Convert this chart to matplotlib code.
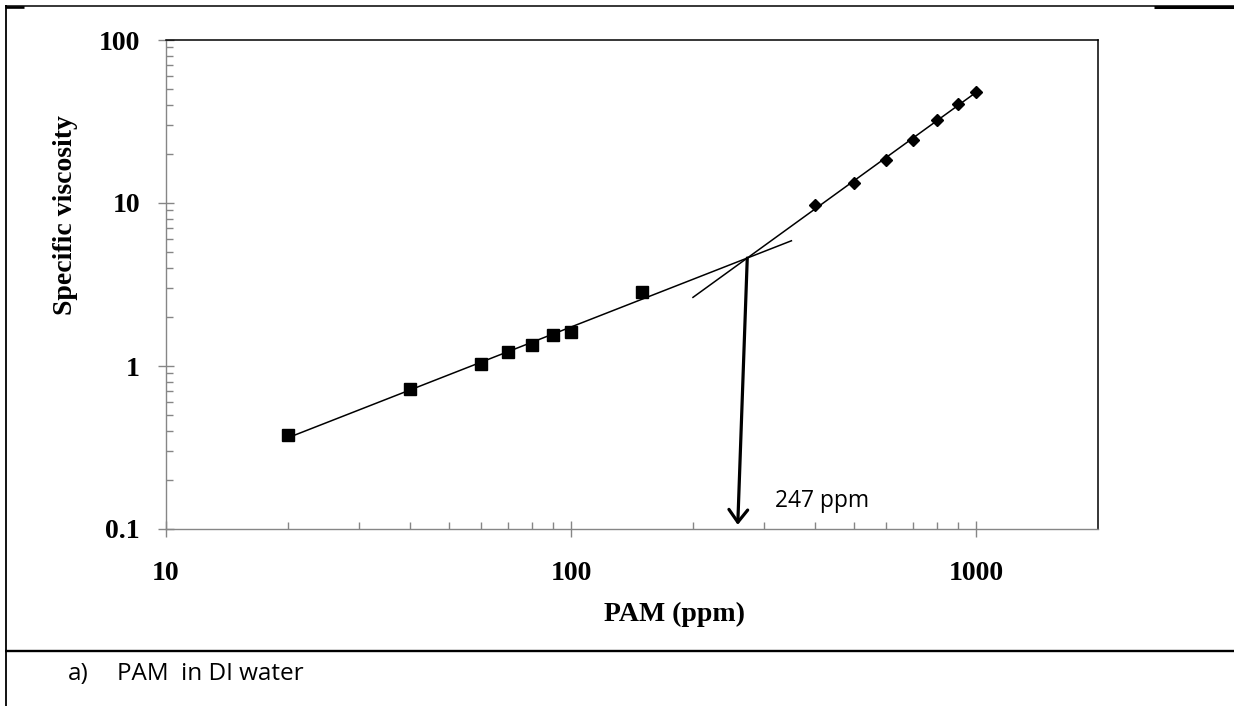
import numpy as np
import matplotlib
matplotlib.use("Agg")
import matplotlib.pyplot as plt
from matplotlib.lines import Line2D
from matplotlib.ticker import FixedLocator, NullFormatter

# ---------------- data ----------------
pam_low = [20, 40, 60, 70, 80, 90, 100, 150]
visc_low = [0.375, 0.722, 1.033, 1.219, 1.352, 1.542, 1.609, 2.86]
pam_high = [400, 500, 600, 700, 800, 900, 1000]
visc_high = [9.70, 13.2, 18.4, 24.3, 32.2, 40.7, 48.3]
fit_low_range = [20, 350]
fit_high_range = [200, 1000]
arrow_tip = [258, 0.106]
cross_label = "247 ppm"
cross_label_pos = [319, 0.1365]
x_ticks = [10, 100, 1000]
x_ticklabels = ["10", "100", "1000"]
y_ticks = [0.1, 1, 10, 100]
y_ticklabels = ["0.1", "1", "10", "100"]
x_label = "PAM (ppm)"
y_label = "Specific viscosity"
caption_a = "a)"
caption_text = "PAM  in DI water"

W, H = 1234, 706
fig = plt.figure(figsize=(W / 100, H / 100), dpi=100)
fig.patch.set_facecolor("white")

def fx(px):
    return px / W

def fy(py):
    return 1 - py / H

ax = fig.add_axes([fx(166), fy(529), (1098 - 166) / W, (529 - 40) / H])
ax.set_xscale("log")
ax.set_yscale("log")
ax.set_xlim(10, 2000)
ax.set_ylim(0.1, 100)

serif = "Liberation Serif"
gray = "#868686"

# power-law fits (straight lines in log-log space)
def loglog_fit(x, y):
    b, a = np.polyfit(np.log10(x), np.log10(y), 1)
    return b, a

b1, a1 = loglog_fit(pam_low, visc_low)
b2, a2 = loglog_fit(pam_high, visc_high)

xl = np.array(fit_low_range, dtype=float)
xh = np.array(fit_high_range, dtype=float)
ax.plot(xl, 10 ** (a1 + b1 * np.log10(xl)), color="black", lw=1.1, zorder=2)
ax.plot(xh, 10 ** (a2 + b2 * np.log10(xh)), color="black", lw=1.1, zorder=2)

ax.plot(pam_low, visc_low, linestyle="none", marker="s", ms=8, color="black", zorder=3)
ax.plot(pam_high, visc_high, linestyle="none", marker="D", ms=6.6, color="black", zorder=3)

# intersection of the two fits
lx_int = (a1 - a2) / (b2 - b1)
x_int = 10 ** lx_int
y_int = 10 ** (a1 + b1 * lx_int)

ax.annotate("", xy=(arrow_tip[0], arrow_tip[1]), xytext=(x_int, y_int),
            arrowprops=dict(arrowstyle="->,head_length=0.6,head_width=0.45",
                            lw=2.3, color="black", shrinkA=0, shrinkB=0,
                            mutation_scale=15),
            zorder=4)
ax.text(cross_label_pos[0], cross_label_pos[1], cross_label, family="Open Sans",
        fontsize=16.4, ha="left", va="baseline", color="black")

# axes styling
for s in ["left", "bottom"]:
    ax.spines[s].set_color(gray)
    ax.spines[s].set_linewidth(1.0)
for s in ["top", "right"]:
    ax.spines[s].set_color("black")
    ax.spines[s].set_linewidth(1.1)

ax.xaxis.set_major_locator(FixedLocator(x_ticks))
ax.set_xticklabels(x_ticklabels)
ax.yaxis.set_major_locator(FixedLocator(y_ticks))
ax.set_yticklabels(y_ticklabels)
ax.xaxis.set_minor_locator(FixedLocator([m * d for d in [10, 100, 1000] for m in range(2, 10) if m * d < 2000]))
ax.yaxis.set_minor_locator(FixedLocator([m * d for d in [0.1, 1, 10] for m in range(2, 10)]))
ax.xaxis.set_minor_formatter(NullFormatter())
ax.yaxis.set_minor_formatter(NullFormatter())

ax.tick_params(which="major", direction="inout", length=11.5, width=1.0, color=gray,
               labelsize=20)
ax.tick_params(which="minor", direction="in", length=5.2, width=1.0, color=gray)
ax.xaxis.set_tick_params(which="major", pad=17)
ax.yaxis.set_tick_params(which="major", pad=13)
for lab in ax.get_xticklabels() + ax.get_yticklabels():
    lab.set_fontfamily(serif)
    lab.set_fontweight("bold")

fig.text(fx(65), fy(215), y_label, rotation=90, ha="center", va="center",
         fontsize=20, fontweight="bold", family=serif)
fig.text(fx(674), fy(621), x_label, ha="center", va="baseline",
         fontsize=20, fontweight="bold", family=serif)

# caption
fig.text(fx(68), fy(680), caption_a, ha="left", va="baseline", fontsize=17.5,
         family="Open Sans")
fig.text(fx(117), fy(680), caption_text, ha="left", va="baseline", fontsize=17.5,
         family="Open Sans")

# document table frame lines
def hline(y, x0, x1, lw):
    fig.add_artist(Line2D([fx(x0), fx(x1)], [fy(y), fy(y)], color="black", lw=lw,
                          solid_capstyle="butt"))

def vline(x, y0, y1, lw):
    fig.add_artist(Line2D([fx(x), fx(x)], [fy(y0), fy(y1)], color="black", lw=lw,
                          solid_capstyle="butt"))

hline(6, 5, 1234, 1.1)
hline(6.5, 5, 24, 1.9)
hline(6.5, 1154, 1234, 2.2)
vline(5.8, 5, 706, 1.3)
hline(651, 5, 1234, 1.7)

fig.savefig("out.png", dpi=100, facecolor="white")
